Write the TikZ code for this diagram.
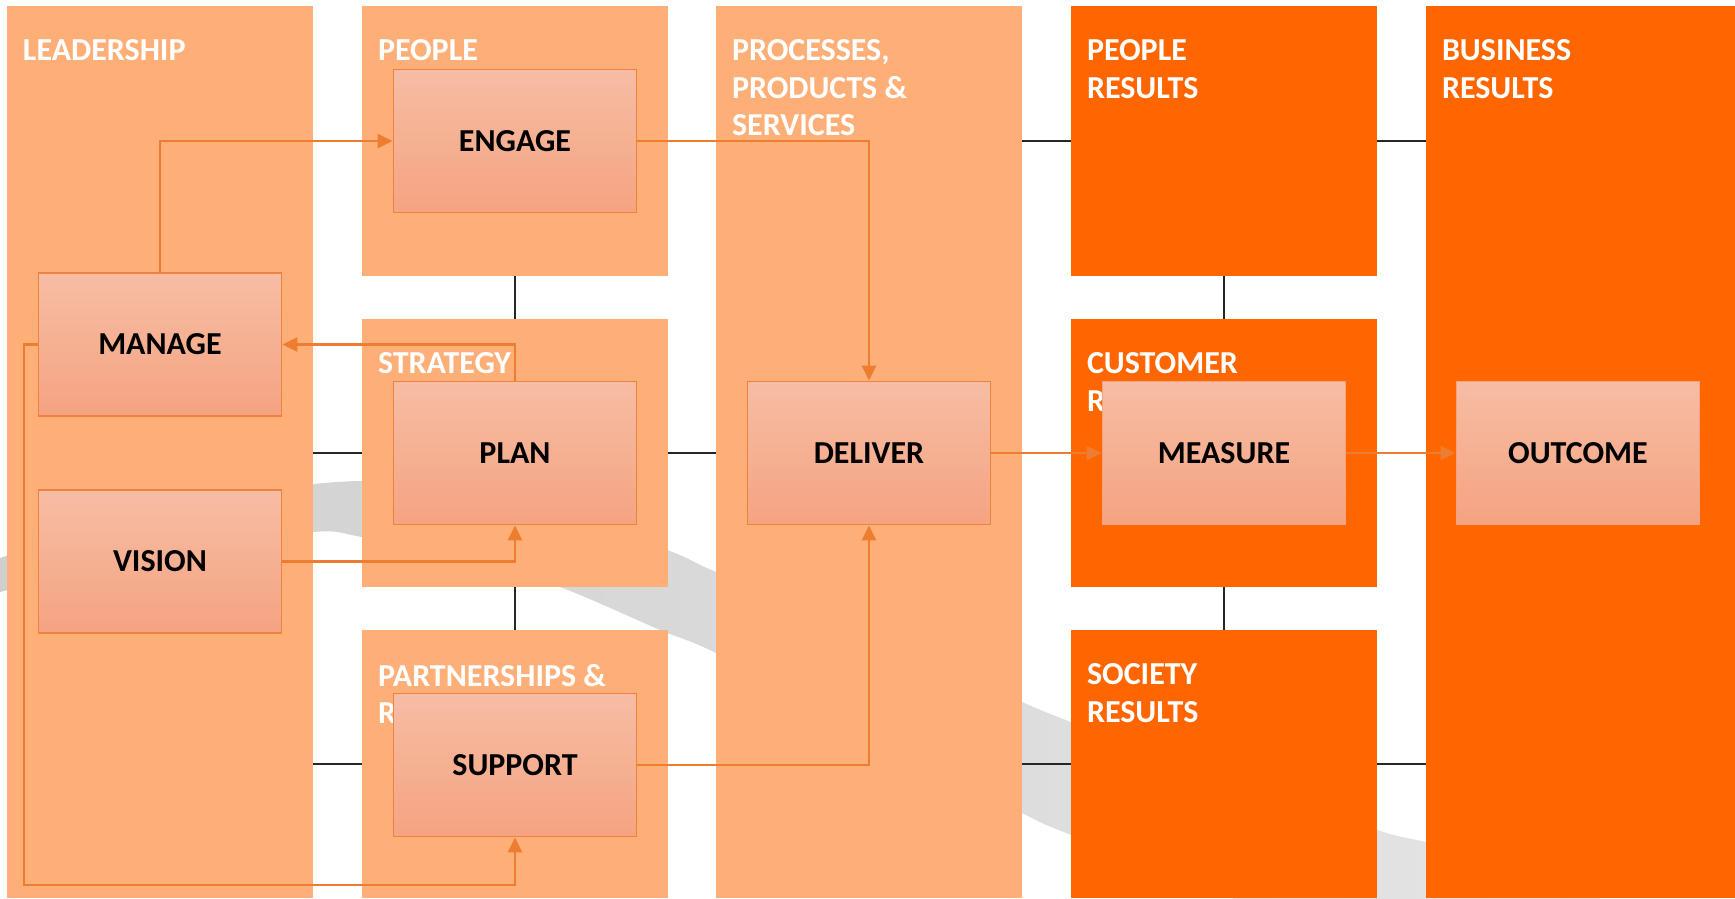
\documentclass[tikz,border=0pt]{standalone}
\usepackage{fontspec}
\setmainfont{Carlito}
\usepackage{tikz}
\usetikzlibrary{
  positioning,
  arrows.meta
}
\usepackage{xcolor}

\definecolor{enablerfill}{HTML}{FDAF77}
\definecolor{resultfill}{HTML}{FF6600}
\definecolor{boxtop}{HTML}{F6BDA4}
\definecolor{boxbot}{HTML}{F5A381}
\definecolor{boxedge}{HTML}{EE8240}
\definecolor{boxedgelight}{HTML}{F4A47C}
\definecolor{flowline}{HTML}{ED7D31}
\definecolor{swooshleft}{HTML}{CFCFCF}
\definecolor{swooshright}{HTML}{E5E5E5}

\tikzset{
  enabler/.style={fill=enablerfill,inner sep=0pt,minimum width=306pt},
  result/.style={fill=resultfill,inner sep=0pt,minimum width=306pt},
  coltitle/.style={text=white,font=\fontsize{32}{37.5}\selectfont\bfseries,align=left,inner sep=0pt,anchor=north west},
  activity/.style={draw=boxedge,line width=1.8pt,top color=boxtop,bottom color=boxbot,minimum width=243pt,minimum height=143pt,inner sep=0pt,font=\fontsize{32}{37.5}\selectfont\bfseries},
  flow/.style={draw=flowline,line width=2.4pt,-{Triangle[length=15pt,width=14pt]}},
  link/.style={draw=black!85,line width=1.5pt}
}

\begin{document}
\begin{tikzpicture}[x=1pt,y=-1pt]
            \useasboundingbox (0,0) rectangle (1735,898);
            % grey swoosh behind the model
            \begin{scope}
              \clip (0,0) rectangle (1735,898);
              \shade[left color=swooshleft,right color=swooshright] plot[smooth] coordinates {(-5,562) (0,558) (160,505) (313,484) (400,482) (520,500) (667,550) (716,572) (870,635) (1022,702) (1071,722) (1224,780) (1377,830) (1426,842) (1600,880)}
                -- plot[smooth] coordinates {(1600,1050) (1377,955) (1224,895) (1071,835) (1022,813) (870,733) (716,653) (660,630) (560,587) (450,553) (362,537) (313,532) (160,554) (0,592) (-5,595)} -- cycle;
            \end{scope}
            % enablers
            \node[enabler,minimum height=892pt] (lead) at (160,452) {};
            \node[enabler,minimum height=270pt] (peo) at (515,141) {};
            \node[enabler,minimum height=268pt] (strat) at (515,453) {};
            \node[enabler,minimum height=268pt] (part) at (515,764) {};
            \node[enabler,minimum height=892pt] (proc) at (869,452) {};
            % results
            \node[result,minimum height=270pt] (pres) at (1224,141) {};
            \node[result,minimum height=268pt] (cres) at (1224,453) {};
            \node[result,minimum height=268pt] (sres) at (1224,764) {};
            \node[result,minimum width=309pt,minimum height=892pt] (bres) at (1580.5,452) {};
            % grid lines
            \draw[link] (peo) -- (strat);
            \draw[link] (strat) -- (part);
            \draw[link] (pres) -- (cres);
            \draw[link] (cres) -- (sres);
            \draw[link] (lead.east |- strat) -- (strat.west);
            \draw[link] (strat.east) -- (proc.west |- strat);
            \draw[link] (proc.east |- pres) -- (pres.west);
            \draw[link] (pres.east) -- (bres.west |- pres);
            \draw[link] (lead.east |- part) -- (part.west);
            \draw[link] (proc.east |- sres) -- (sres.west);
            \draw[link] (sres.east) -- (bres.west |- sres);
            % titles
            \node[coltitle] (leadT) at ([shift={(16,34)}]lead.north west) {LEADERSHIP};
            \node[coltitle] (peoT) at ([shift={(16,34)}]peo.north west) {PEOPLE};
            \node[coltitle] (stratT) at ([shift={(16,34)}]strat.north west) {STRATEGY};
            \node[coltitle] (partT) at ([shift={(16,34)}]part.north west) {PARTNERSHIPS \&\\RESOURCES};
            \node[coltitle] (procT) at ([shift={(16,34)}]proc.north west) {PROCESSES,\\PRODUCTS \&\\SERVICES};
            \node[coltitle] (presT) at ([shift={(16,34)}]pres.north west) {PEOPLE\\RESULTS};
            \node[coltitle] (cresT) at ([shift={(16,34)}]cres.north west) {CUSTOMER\\RESULTS};
            \node[coltitle] (sresT) at ([shift={(16,34)}]sres.north west) {SOCIETY\\RESULTS};
            \node[coltitle] (bresT) at ([shift={(16,34)}]bres.north west) {BUSINESS\\RESULTS};
            % activities
            \node[activity] (engage) at (515,141) {ENGAGE};
            \node[activity] (plan) at (515,453) {PLAN};
            \node[activity] (support) at (515,765) {SUPPORT};
            \node[activity] (manage) at (160,344.5) {MANAGE};
            \node[activity] (vision) at (160,561.5) {VISION};
            \node[activity] (deliver) at (869,453) {DELIVER};
            \node[activity,draw=boxedgelight] (measure) at (1224,453) {MEASURE};
            \node[activity,draw=boxedgelight] (outcome) at (1578,453) {OUTCOME};
            % flows
            \coordinate (back) at (24,885);
            \draw[flow] (manage.north) |- (engage.west);
            \draw[flow] (engage.east) -| (deliver.north);
            \draw[flow] (plan.north) |- (manage.east);
            \draw[flow] (vision.east) -| (plan.south);
            \draw[flow] (support.east) -| (deliver.south);
            \draw[flow] (manage.west) -| (back) -| (support.south);
            \draw[flow] (deliver) -- (measure);
            \draw[flow] (measure) -- (outcome);
        \end{tikzpicture}
\end{document}
